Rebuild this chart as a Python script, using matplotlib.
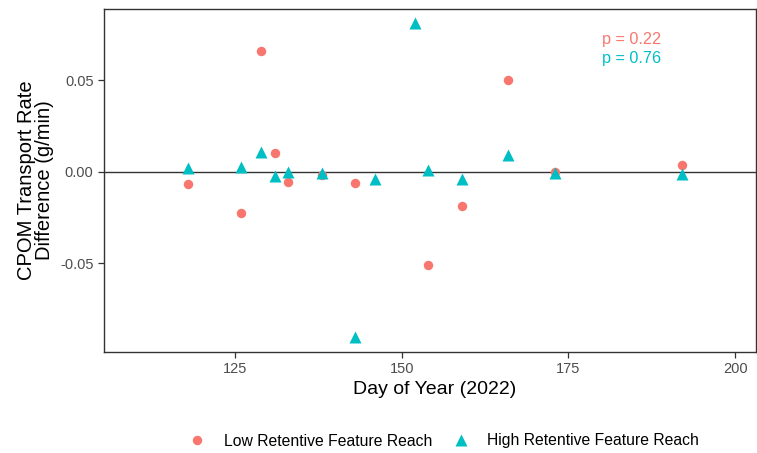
import matplotlib
matplotlib.use("Agg")
import matplotlib.pyplot as plt
from matplotlib.lines import Line2D

plt.rcParams["font.family"] = ["Liberation Sans", "DejaVu Sans"]
plt.rcParams["axes.unicode_minus"] = False

# data
low_day = [118, 126, 129, 131, 133, 138, 143, 154, 159, 166, 173, 192]
low_diff = [-0.0066, -0.0226, 0.0656, 0.0102, -0.0056, -0.0020, -0.0060,
            -0.0510, -0.0188, 0.0501, -0.0005, 0.0034]

high_day = [118, 126, 129, 131, 133, 138, 143, 146, 152, 154, 159, 166, 173, 192]
high_diff = [0.0017, 0.0023, 0.0108, -0.0025, -0.0003, -0.0006, -0.0903,
             -0.0043, 0.0810, 0.0008, -0.0039, 0.0092, -0.0006, -0.0015]

x_ticks = [125, 150, 175, 200]
y_ticks = [-0.05, 0.00, 0.05]
y_tick_labels = ["-0.05", "0.00", "0.05"]

LOW_COL = "#F8766D"
HIGH_COL = "#00BFC4"

fig = plt.figure(figsize=(7.57, 4.53), dpi=100)
ax = fig.add_axes([104 / 757, 101 / 453, 652 / 757, 343 / 453])

ax.axhline(0, color="#333333", lw=1.0, zorder=1)
ax.plot(low_day, low_diff, "o", ms=6.8, color=LOW_COL, mec="none", zorder=3)
ax.plot(high_day, high_diff, "^", ms=8, color=HIGH_COL, mec="none", zorder=3)

ax.text(184.5, 0.0719, "p = 0.22", color=LOW_COL, fontsize=11.7,
        ha="center", va="center")
ax.text(184.5, 0.0620, "p = 0.76", color=HIGH_COL, fontsize=11.7,
        ha="center", va="center")

ax.set_xlim(105.4, 203.1)
ax.set_ylim(-0.0986, 0.0888)
ax.set_xticks(x_ticks)
ax.set_yticks(y_ticks)
ax.set_yticklabels(y_tick_labels)
ax.tick_params(colors="#333333", labelcolor="#4D4D4D", labelsize=10.5,
               length=4, width=0.9)

for s in ax.spines.values():
    s.set_color("#333333")
    s.set_linewidth(1.0)

ax.set_xlabel("Day of Year (2022)", fontsize=14, labelpad=4)
ax.xaxis.set_label_coords((435 - 104) / 652, -0.085)
ax.set_ylabel("CPOM Transport Rate\nDifference (g/min)", fontsize=14.5,
              labelpad=4.5, linespacing=0.95)

handles = [
    Line2D([], [], marker="o", ls="none", ms=6.8, color=LOW_COL, mec="none"),
    Line2D([], [], marker="^", ls="none", ms=8, color=HIGH_COL, mec="none"),
]
fig.legend(handles, ["Low Retentive Feature Reach", "High Retentive Feature Reach"],
           loc="center", bbox_to_anchor=(0.586, 1 - 441 / 453), ncol=2,
           frameon=False, fontsize=11.3, handletextpad=1.1, columnspacing=1.2,
           handlelength=1.2)

fig.savefig("out.png", dpi=100)
